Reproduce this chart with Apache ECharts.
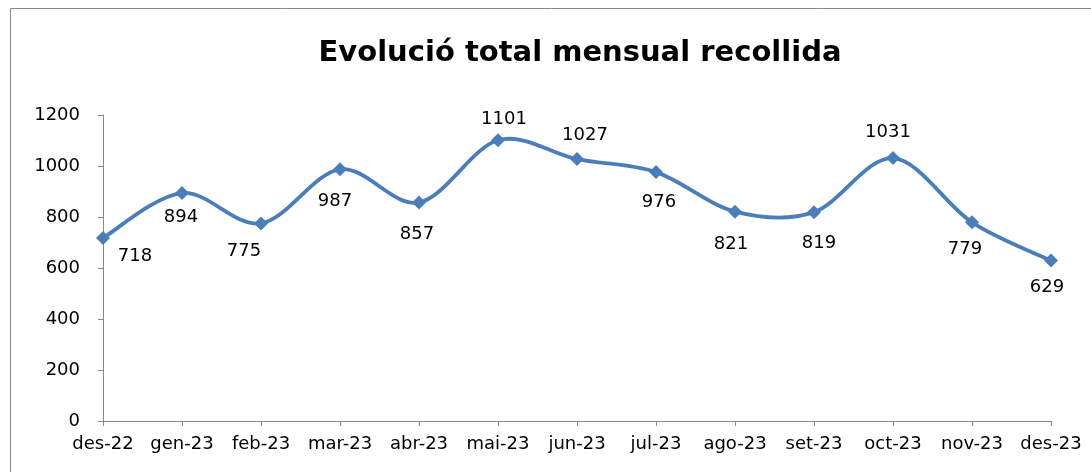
<!DOCTYPE html>
<html>
<head>
<meta charset="utf-8">
<script src="https://cdn.jsdelivr.net/npm/echarts@6/dist/echarts.min.js"></script>
<style>
  html, body { margin: 0; padding: 0; background: #fff; }
  #chart { width: 1091px; height: 472px; }
</style>
</head>
<body>
<div id="chart"></div>
<script>
var months = ['des-22', 'gen-23', 'feb-23', 'mar-23', 'abr-23', 'mai-23', 'jun-23',
  'jul-23', 'ago-23', 'set-23', 'oct-23', 'nov-23', 'des-23'];
var totals = [718, 894, 775, 987, 857, 1101, 1027, 976, 821, 819, 1031, 779, 629];
var yTicks = [0, 200, 400, 600, 800, 1000, 1200];

// where each data label sits relative to its point (px), as placed in the original
var labelShift = [[32, 18], [-1, 24], [-17, 28], [-5, 32], [-2, 32], [6, -21], [8, -24],
  [3, 30], [-4, 33], [5, 31], [-5, -26], [-7, 27], [-4, 27]];

var lineColor = '#4a7ebb';
var myChart = echarts.init(document.getElementById('chart'));

// Excel-like smoothed line: cubic segments with Catmull-Rom control points
function renderSegment(params, api) {
  var i = params.dataIndex;
  if (i >= totals.length - 1) return null;
  var last = totals.length - 1;
  var p0 = api.coord([Math.max(i - 1, 0), totals[Math.max(i - 1, 0)]]);
  var p1 = api.coord([i, totals[i]]);
  var p2 = api.coord([i + 1, totals[i + 1]]);
  var p3 = api.coord([Math.min(i + 2, last), totals[Math.min(i + 2, last)]]);
  var k = 1 / 6;
  return {
    type: 'bezierCurve',
    shape: {
      x1: p1[0], y1: p1[1],
      x2: p2[0], y2: p2[1],
      cpx1: p1[0] + (p2[0] - p0[0]) * k,
      cpy1: p1[1] + (p2[1] - p0[1]) * k,
      cpx2: p2[0] - (p3[0] - p1[0]) * k,
      cpy2: p2[1] - (p3[1] - p1[1]) * k
    },
    style: { stroke: lineColor, lineWidth: 3.8, fill: null, lineCap: 'round' },
    silent: true
  };
}

var option = {
  backgroundColor: '#fff',
  animation: false,
  title: {
    text: 'Evolució total mensual recollida',
    left: 575,
    top: 34,
    textAlign: 'center',
    textStyle: {
      fontFamily: 'DejaVu Sans',
      fontWeight: 'bold',
      fontSize: 29,
      color: '#000'
    }
  },
  graphic: [{
    type: 'rect',
    shape: { x: 10.5, y: 8.5, width: 1200, height: 600 },
    style: { fill: 'none', stroke: '#888', lineWidth: 1 },
    silent: true
  }],
  grid: { left: 103, right: 40, top: 115, bottom: 51 },
  xAxis: {
    type: 'category',
    data: months,
    boundaryGap: false,
    axisLine: { lineStyle: { color: '#888', width: 1 } },
    axisTick: { alignWithLabel: true, length: 5, lineStyle: { color: '#888' } },
    axisLabel: {
      color: '#000',
      fontFamily: 'DejaVu Sans',
      fontSize: 18,
      margin: 14,
      interval: 0
    }
  },
  yAxis: {
    type: 'value',
    min: yTicks[0],
    max: yTicks[yTicks.length - 1],
    interval: 200,
    axisLine: { show: true, lineStyle: { color: '#888', width: 1 } },
    axisTick: { show: true, length: 5, lineStyle: { color: '#888' } },
    splitLine: { show: false },
    axisLabel: {
      color: '#000',
      fontFamily: 'DejaVu Sans',
      fontSize: 18,
      margin: 23,
      formatter: function (v) { return String(v); }
    }
  },
  series: [{
    type: 'custom',
    renderItem: renderSegment,
    data: totals.map(function (v, i) { return [i, v]; }),
    z: 2
  }, {
    type: 'scatter',
    data: totals.map(function (v, i) {
      return {
        value: [i, v],
        label: { offset: labelShift[i] }
      };
    }),
    symbol: 'diamond',
    symbolSize: 14,
    itemStyle: { color: lineColor, opacity: 1 },
    z: 3,
    label: {
      show: true,
      position: 'inside',
      color: '#000',
      fontFamily: 'DejaVu Sans',
      fontSize: 18,
      formatter: function (p) { return String(p.value[1]); }
    }
  }]
};

myChart.setOption(option);
</script>
</body>
</html>
